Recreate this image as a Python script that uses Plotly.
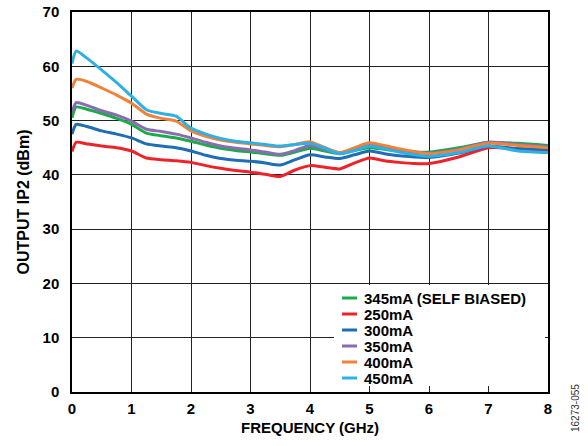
import plotly.graph_objects as go

freq = [0, 0.07, 0.25, 0.5, 0.75, 1.0, 1.25, 1.5, 1.75, 2.0, 2.25, 2.5, 2.75, 3.0, 3.25,
        3.5, 3.75, 4.0, 4.25, 4.5, 4.75, 5.0, 5.25, 5.5, 5.75, 6.0, 6.5, 7.0, 7.5, 8.0]

ip2_345 = [50.5, 52.5, 52.1, 51.3, 50.4, 49.3, 47.7, 47.2, 46.8, 46.2, 45.5, 44.9, 44.5, 44.2, 43.9,
           43.6, 44.2, 44.9, 44.4, 43.9, 44.5, 45.0, 44.7, 44.4, 44.2, 44.2, 45.0, 46.0, 45.8, 45.4]
ip2_250 = [44.3, 46.0, 45.7, 45.3, 45.0, 44.4, 43.1, 42.8, 42.6, 42.3, 41.7, 41.2, 40.8, 40.5, 40.1,
           39.7, 40.9, 41.7, 41.4, 41.1, 42.2, 43.1, 42.6, 42.3, 42.1, 42.1, 43.3, 45.0, 44.8, 44.6]
ip2_300 = [47.5, 49.3, 48.9, 48.1, 47.5, 46.8, 45.7, 45.3, 45.0, 44.4, 43.6, 43.0, 42.7, 42.5, 42.2,
           41.8, 42.8, 43.7, 43.3, 43.0, 43.7, 44.4, 43.9, 43.5, 43.3, 43.2, 44.0, 45.3, 44.8, 44.7]
ip2_350 = [51.5, 53.3, 52.8, 51.8, 51.0, 49.9, 48.4, 48.0, 47.5, 46.8, 46.0, 45.3, 44.9, 44.6, 44.2,
           43.8, 44.5, 45.4, 44.7, 44.0, 44.8, 45.6, 45.0, 44.5, 44.2, 44.0, 44.7, 46.0, 45.6, 45.2]
ip2_400 = [56.0, 57.6, 57.2, 56.0, 54.7, 53.2, 51.2, 50.4, 49.9, 48.1, 47.1, 46.4, 46.0, 45.7, 45.4,
           45.2, 45.6, 46.1, 45.0, 44.1, 45.0, 45.9, 45.4, 44.8, 44.3, 43.9, 44.6, 45.8, 45.4, 45.0]
ip2_450 = [60.5, 62.8, 61.5, 59.3, 57.0, 54.5, 52.0, 51.3, 50.8, 48.6, 47.5, 46.7, 46.2, 45.9, 45.6,
           45.3, 45.6, 45.8, 44.9, 43.9, 44.5, 45.3, 44.8, 44.2, 43.7, 43.4, 44.1, 45.3, 44.4, 44.1]

series_names = ["345mA (SELF BIASED)", "250mA", "300mA", "350mA", "400mA", "450mA"]
series_values = [ip2_345, ip2_250, ip2_300, ip2_350, ip2_400, ip2_450]
colors = ["#1bab4c", "#ee2329", "#1f6db4", "#8a6db1", "#f0823a", "#2fb0e4"]

x_ticks = [0, 1, 2, 3, 4, 5, 6, 7, 8]
y_ticks = [0, 10, 20, 30, 40, 50, 60, 70]

font_family = "Liberation Sans, Arial, sans-serif"

fig = go.Figure()
for name, vals, col in zip(series_names, series_values, colors):
    fig.add_trace(go.Scatter(x=freq, y=vals, name=name, mode="lines", showlegend=False,
                             line=dict(color=col, width=3, shape="spline", smoothing=0.6)))

# Plot area in pixels: x 72..548, y 12..392
L, R, T, B = 72, 548, 12, 392
def px(xp):
    return (xp - L) / (R - L)
def py(yp):
    return (B - yp) / (B - T)

# Legend (drawn manually to match compact spacing)
fig.add_shape(type="rect", xref="paper", yref="paper", layer="above",
              x0=px(334), x1=px(545), y0=py(386), y1=py(285),
              fillcolor="white", line=dict(width=0))
legend_rows = [298, 314, 330, 346, 362, 378]
for name, col, yrow in zip(series_names, colors, legend_rows):
    fig.add_shape(type="line", xref="paper", yref="paper", layer="above",
                  x0=px(342), x1=px(357), y0=py(yrow), y1=py(yrow),
                  line=dict(color=col, width=3))
    fig.add_annotation(text=name, xref="paper", yref="paper", x=px(362), y=py(yrow),
                       xanchor="left", yanchor="middle", showarrow=False,
                       font=dict(family=font_family, size=15, color="black", weight="bold"))

fig.update_layout(
    width=588, height=446,
    margin=dict(l=L, r=588 - R, t=T, b=446 - B, autoexpand=False),
    paper_bgcolor="white", plot_bgcolor="white",
    font=dict(family=font_family, size=12, color="black"),
    showlegend=False,
    xaxis=dict(range=[0, 8], tickvals=x_ticks, ticktext=[str(v) for v in x_ticks],
               showgrid=True, gridcolor="#222222", gridwidth=1,
               showline=True, linecolor="black", linewidth=1.5, mirror=True,
               zeroline=False, ticks="", automargin=False, ticklabelstandoff=2,
               tickfont=dict(family=font_family, size=15, weight="bold"),
               title=dict(text="FREQUENCY (GHz)", standoff=7,
                          font=dict(family=font_family, size=15, weight="bold"))),
    yaxis=dict(range=[0, 70], tickvals=y_ticks, ticktext=[str(v) for v in y_ticks],
               showgrid=True, gridcolor="#222222", gridwidth=1,
               showline=True, linecolor="black", linewidth=1.5, mirror=True,
               zeroline=False, ticks="", automargin=False, ticklabelstandoff=8,
               tickfont=dict(family=font_family, size=15, weight="bold"),
               title=dict(text="OUTPUT IP2 (dBm)", standoff=9,
                          font=dict(family=font_family, size=16, weight="bold"))),
)

fig.add_annotation(text="16273-055", xref="paper", yref="paper",
                   x=px(576), y=py(408), xanchor="center", yanchor="middle",
                   textangle=-90, showarrow=False,
                   font=dict(family=font_family, size=10, color="#333333"))

fig.write_html("out.html", post_script="document.body.style.margin='0';",
               config={"displayModeBar": False})
